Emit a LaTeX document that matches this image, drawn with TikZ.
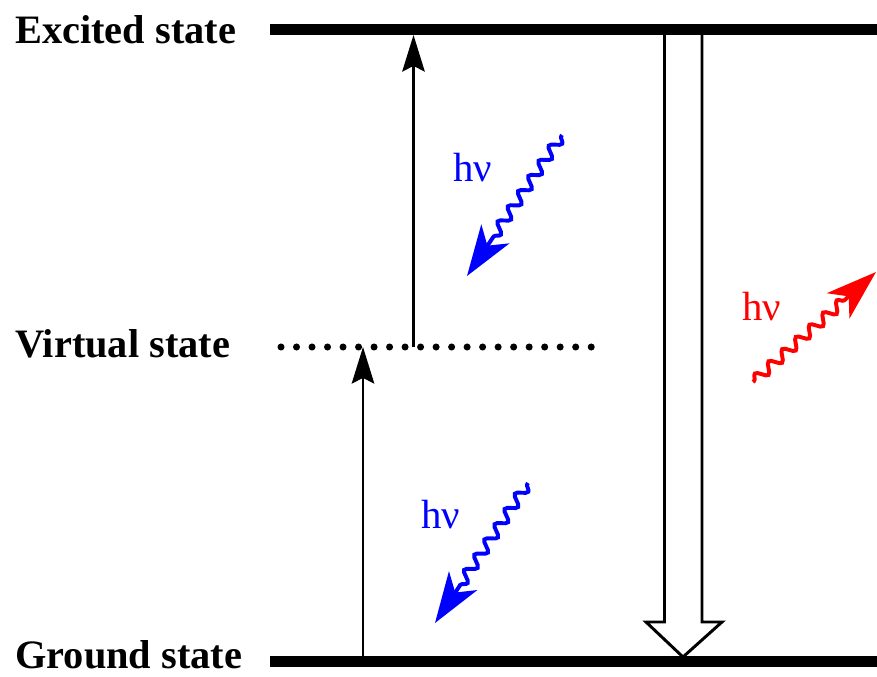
\documentclass[tikz,border=0pt]{standalone}
\usepackage{fontspec}
\setmainfont{Liberation Serif}
\usetikzlibrary{arrows.meta,decorations.pathmorphing,positioning}
\definecolor{photonblue}{rgb}{0,0,1}
\definecolor{photonred}{rgb}{1,0,0}
\tikzset{
	statelabel/.style={
		anchor=base west, inner sep=0pt,
		font=\fontsize{28.7}{34}\selectfont\bfseries
	},
	levelline/.style={line width=7.6pt},
	virtualline/.style={
		line width=5pt, line cap=round,
		dash pattern=on 0pt off 11.03pt
	},
	excite/.style={line width=1.6pt, -{Stealth[length=26pt,width=16pt,inset=4pt]}},
	photon/.style={
		line width=2.8pt, decorate,
		decoration={snake, amplitude=3.6pt, segment length=13pt,
			pre length=1pt, post length=30pt},
		-{Stealth[length=36pt,width=24pt,inset=10pt]}
	},
	hnu/.style={inner sep=0pt, font=\fontsize{29}{34}\selectfont},
	hollowarrow/.style={line width=2.1pt, line join=miter}
}

\begin{document}
\begin{tikzpicture}[x=0.025cm,y=-0.025cm]
	\useasboundingbox (0,0) rectangle (877,677);
	% levels
	\node[statelabel] (exlabel) at (15,43)  {Excited state};
	\node[statelabel] (vilabel) at (15,357) {Virtual state};
	\node[statelabel] (grlabel) at (15,668) {Ground state};
	\coordinate (exL) at (270,29.5);  \coordinate (exR) at (877,29.5);
	\coordinate (viL) at (281,347);   \coordinate (viR) at (591.5,347);
	\coordinate (grL) at (270,661.5); \coordinate (grR) at (877,661.5);
	\draw[levelline] (exL) -- (exR);
	\draw[levelline] (grL) -- (grR);
	\draw[virtualline] (viL) -- (viR);
	% absorption
	\coordinate (up1s) at (363,657);   \coordinate (up1e) at (363,347);
	\coordinate (up2s) at (413.5,347); \coordinate (up2e) at (413.5,35);
	\draw[excite] (up1s) -- (up1e);
	\draw[excite] (up2s) -- (up2e);
	% emission
	\draw[hollowarrow] (664.5,34) -- (664.5,622) -- (646,622) -- (683,657)
		-- (722,622) -- (702,622) -- (702,34);
	% photons
	\coordinate (pa1) at (562,135); \coordinate (pa2) at (467,276);
	\coordinate (pb1) at (528,483); \coordinate (pb2) at (435,623);
	\coordinate (pc1) at (753,382); \coordinate (pc2) at (876,272);
	\draw[photon,photonblue] (pa1) -- (pa2);
	\draw[photon,photonblue] (pb1) -- (pb2);
	\draw[photon,photonred]  (pc1) -- (pc2);
	\node[hnu,text=photonblue] (hnua) at (473,168) {hν};
	\node[hnu,text=photonblue] (hnub) at (441,515) {hν};
	\node[hnu,text=photonred]  (hnuc) at (762,307) {hν};
\end{tikzpicture}
\end{document}
